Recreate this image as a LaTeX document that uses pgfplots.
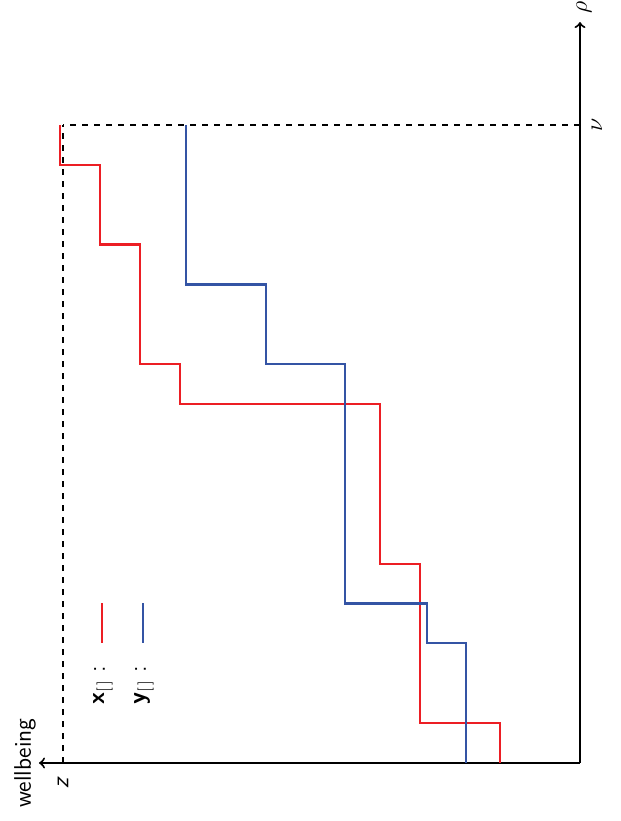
\documentclass[border=0pt]{standalone}
\usepackage{pgfplots}
\pgfplotsset{compat=1.18}
\definecolor{stepred}{RGB}{236,30,36}
\definecolor{stepblue}{RGB}{52,84,164}
\begin{document}
\begin{tikzpicture}[font=\sffamily\large]
\useasboundingbox (-290pt,-29pt) rectangle (20.5pt,381.5pt);
\begin{axis}[
  anchor=south east, at={(0,0)},
  x=20pt, y=19.94pt,
  x dir=reverse,
  xmin=0, xmax=13.525, ymin=0, ymax=18.58,
  axis lines=middle,
  axis line style={->, line width=1pt},
  xtick=\empty, ytick=\empty,
  clip=false,
]
% wellbeing of the two allocations along rho
\addplot[stepred, line width=1.1pt, const plot mark right] coordinates {
  (2,0) (4,1) (5,5) (10,9) (11,10) (12,13) (13,15) (13,16)};
\addplot[stepblue, line width=1.1pt, const plot mark right] coordinates {
  (2.85,0) (3.83,3) (5.88,4) (7.85,10) (9.85,12) (9.85,16)};
% bounds z and nu
\addplot[black, dashed, line width=1pt] coordinates {(0,16) (12.925,16)};
\addplot[black, dashed, line width=1pt] coordinates {(12.925,0) (12.925,16)};
% key
\addplot[stepred, line width=1.1pt] coordinates {(11.95,3.01) (11.95,4.01)};
\addplot[stepblue, line width=1.1pt] coordinates {(10.925,3.01) (10.925,4.01)};
\node[rotate=90, anchor=base west, inner sep=0pt] at (axis cs:11.875,1.455) {\textbf{x}$_{[\,]}$\;:};
\node[rotate=90, anchor=base west, inner sep=0pt] at (axis cs:10.85,1.455) {\textbf{y}$_{[\,]}$\;:};
% axis labels
\node[rotate=90] at (axis cs:13.875,0) {wellbeing};
\node[rotate=90] at (axis cs:-0.1,18.95) {$\rho$};
\node[rotate=90] at (axis cs:-0.425,16) {$\nu$};
\node[rotate=90] at (axis cs:12.925,-0.5) {\slshape z};
\end{axis}
\end{tikzpicture}
\end{document}
